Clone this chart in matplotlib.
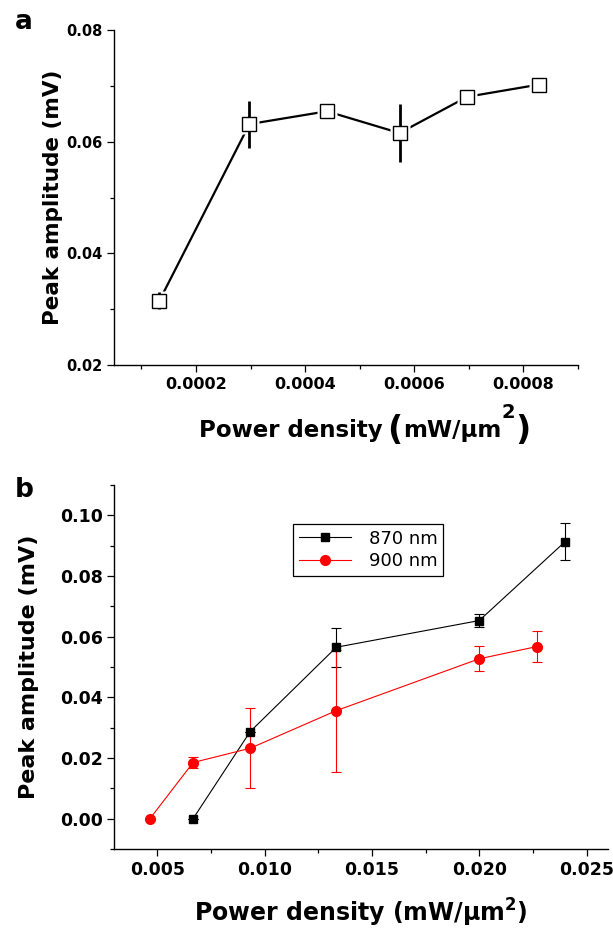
import matplotlib
matplotlib.use("Agg")
import matplotlib.pyplot as plt
from matplotlib.ticker import MultipleLocator, FormatStrFormatter

# panel a : single wavelength
pa_x = [0.000133, 0.000298, 0.000440, 0.000573, 0.000697, 0.000829]
pa_y = [0.0315, 0.0632, 0.0655, 0.0616, 0.0681, 0.0703]
pa_err = [0.0015, 0.0042, 0.0012, 0.0052, 0.0011, 0.0012]

# panel b : two wavelengths
b870_x = [0.00667, 0.00933, 0.01334, 0.0200, 0.0240]
b870_y = [0.0, 0.0287, 0.0565, 0.0653, 0.0913]
b870_err = [0.0, 0.0, 0.0065, 0.0022, 0.0060]

b900_x = [0.00466, 0.00667, 0.00933, 0.01334, 0.0200, 0.02267]
b900_y = [0.0, 0.0185, 0.0232, 0.0356, 0.0527, 0.0567]
b900_err = [0.0, 0.0018, 0.0132, 0.0201, 0.0041, 0.0052]

labels = ["870 nm", "900 nm"]

W, H = 613, 931
fig = plt.figure(figsize=(W / 100, H / 100), dpi=100)
ax1 = fig.add_axes([0.186, 0.608, 0.757, 0.3593])
ax2 = fig.add_axes([0.1865, 0.0881, 0.8054, 0.391])

for ax in (ax1, ax2):
    ax.spines["top"].set_visible(False)
    ax.spines["right"].set_visible(False)
    ax.spines["left"].set_linewidth(1.0)
    ax.spines["bottom"].set_linewidth(1.0)
    ax.tick_params(which="major", direction="out", length=5, width=0.9)
    ax.tick_params(which="minor", direction="out", length=3, width=0.9)

# ---- panel a
ax1.plot(pa_x, pa_y, color="black", lw=1.6, zorder=1)
# white halo so the line stops short of the markers (Origin style)
ax1.plot(pa_x, pa_y, ls="none", marker="s", ms=14.5, mfc="white", mec="none", zorder=2)
ax1.errorbar(pa_x, pa_y, yerr=pa_err, fmt="none", ecolor="black", elinewidth=2.0,
             capsize=0, zorder=3)
ax1.plot(pa_x, pa_y, ls="none", marker="s", ms=10.5, mfc="white", mec="black",
         mew=1.0, zorder=4)

ax1.set_xlim(0.00005, 0.0009)
ax1.set_ylim(0.02, 0.08)
ax1.xaxis.set_major_locator(MultipleLocator(0.0002))
ax1.xaxis.set_minor_locator(MultipleLocator(0.0001))
ax1.yaxis.set_major_locator(MultipleLocator(0.02))
ax1.yaxis.set_minor_locator(MultipleLocator(0.01))
ax1.xaxis.set_major_formatter(FormatStrFormatter("%.4f"))
ax1.yaxis.set_major_formatter(FormatStrFormatter("%.2f"))
for t in ax1.get_xticklabels():
    t.set_fontsize(11.5)
    t.set_fontweight("bold")
for t in ax1.get_yticklabels():
    t.set_fontsize(10.5)
    t.set_fontweight("bold")

ax1.set_ylabel("Peak amplitude (mV)", fontsize=15.5, fontweight="bold")
ax1.yaxis.set_label_coords(-0.111, 0.5)

# x label of panel a, pieced together (tall brackets, high exponent)
renderer = fig.canvas.get_renderer()
pieces = [("Power density", 16.5, 0, 4),
          ("(", 24, 2.5, 1),
          ("mW/μm", 16.5, 0, 0),
          ("2", 14, -19.5, 1),
          (")", 24, 2.5, 0)]
x = 199
base = 437.5
for s, size, dy, gap in pieces:
    t = fig.text(x / W, 1 - (base + dy) / H, s, fontsize=size, fontweight="bold",
                 ha="left", va="baseline")
    x = t.get_window_extent(renderer).x1 + gap

# ---- panel b
ax2.errorbar(b870_x, b870_y, yerr=b870_err, fmt="-s", color="black", ms=5.5,
             lw=0.8, elinewidth=0.8, capsize=3.5, capthick=0.8, label=labels[0])
ax2.errorbar(b900_x, b900_y, yerr=b900_err, fmt="-o", color="red", ms=7,
             lw=0.8, elinewidth=0.8, capsize=3.5, capthick=0.8, label=labels[1])

ax2.set_xlim(0.003, 0.026)
ax2.set_ylim(-0.01, 0.11)
ax2.xaxis.set_major_locator(MultipleLocator(0.005))
ax2.xaxis.set_minor_locator(MultipleLocator(0.0025))
ax2.yaxis.set_major_locator(MultipleLocator(0.02))
ax2.yaxis.set_minor_locator(MultipleLocator(0.01))
ax2.xaxis.set_major_formatter(FormatStrFormatter("%.3f"))
ax2.yaxis.set_major_formatter(FormatStrFormatter("%.2f"))
for t in ax2.get_xticklabels() + ax2.get_yticklabels():
    t.set_fontsize(12.5)
    t.set_fontweight("bold")

ax2.set_ylabel("Peak amplitude (mV)", fontsize=16, fontweight="bold")
ax2.yaxis.set_label_coords(-0.1525, 0.5)
ax2.set_xlabel(r"Power density (mW/μm$^{\mathbf{2}}$)", fontsize=17, fontweight="bold")
ax2.xaxis.set_label_coords(0.5, -0.132)

handles, labs = ax2.get_legend_handles_labels()
handles = [h[0] for h in handles]
leg = ax2.legend(handles, labs, loc="upper left", bbox_to_anchor=(0.3626, 0.892),
                 borderaxespad=0, fontsize=13, fancybox=False, framealpha=1,
                 edgecolor="black", handlelength=2.9, borderpad=0.3,
                 labelspacing=0.25, handletextpad=1.0)
leg.get_frame().set_linewidth(0.9)

fig.text(15 / W, 1 - 29 / H, "a", fontsize=19, fontweight="bold", va="baseline")
fig.text(15 / W, 1 - 497 / H, "b", fontsize=19, fontweight="bold", va="baseline")

fig.savefig("out.png", dpi=100)
